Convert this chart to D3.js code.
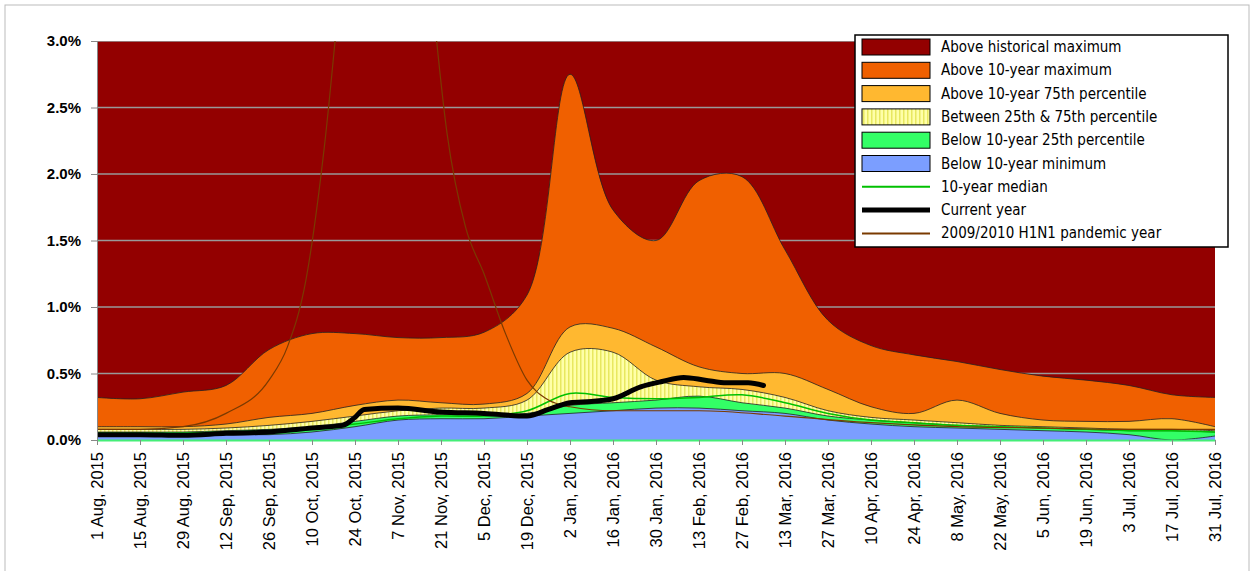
<!DOCTYPE html>
<html><head><meta charset="utf-8">
<script src="https://cdn.jsdelivr.net/npm/d3@7"></script>
<style>body{margin:0;background:#fff}text{font-family:"Liberation Sans",Arial,sans-serif}</style>
</head><body><div id="chart"></div>
<script>
var labels = ["1 Aug, 2015","15 Aug, 2015","29 Aug, 2015","12 Sep, 2015","26 Sep, 2015","10 Oct, 2015","24 Oct, 2015","7 Nov, 2015","21 Nov, 2015","5 Dec, 2015","19 Dec, 2015","2 Jan, 2016","16 Jan, 2016","30 Jan, 2016","13 Feb, 2016","27 Feb, 2016","13 Mar, 2016","27 Mar, 2016","10 Apr, 2016","24 Apr, 2016","8 May, 2016","22 May, 2016","5 Jun, 2016","19 Jun, 2016","3 Jul, 2016","17 Jul, 2016","31 Jul, 2016"];
// percentile bands, one value per label date (percent)
var histMax = [0.32,0.31,0.36,0.41,0.68,0.80,0.80,0.77,0.77,0.81,1.09,2.75,1.73,1.50,1.95,1.98,1.43,0.90,0.71,0.64,0.59,0.53,0.48,0.45,0.41,0.34,0.32];
var max10   = [0.10,0.10,0.10,0.12,0.17,0.20,0.26,0.30,0.28,0.27,0.35,0.85,0.84,0.70,0.55,0.50,0.50,0.38,0.25,0.20,0.30,0.20,0.15,0.14,0.14,0.16,0.10];
var p75     = [0.08,0.08,0.08,0.09,0.11,0.14,0.18,0.22,0.24,0.24,0.30,0.66,0.66,0.45,0.40,0.38,0.32,0.22,0.17,0.15,0.13,0.11,0.10,0.09,0.08,0.08,0.07];
var p25     = [0.06,0.06,0.06,0.07,0.08,0.10,0.14,0.18,0.19,0.19,0.20,0.26,0.28,0.30,0.33,0.28,0.24,0.18,0.15,0.13,0.11,0.10,0.09,0.08,0.07,0.07,0.06];
var min10   = [0.03,0.03,0.03,0.04,0.04,0.06,0.10,0.15,0.16,0.16,0.18,0.20,0.22,0.24,0.24,0.22,0.20,0.15,0.12,0.10,0.09,0.08,0.07,0.06,0.04,0.00,0.03];
var median  = [0.05,0.05,0.05,0.06,0.07,0.09,0.12,0.16,0.18,0.18,0.22,0.35,0.32,0.31,0.32,0.34,0.28,0.20,0.15,0.13,0.11,0.10,0.09,0.08,0.07,0.07,0.06];
// current year (day since 1 Aug, percent)
var curDays = [0,14,28,42,56,70,80,84,87,98,112,126,140,147,154,161,168,177,184,191,198,205,212,217];
var curVals = [0.04,0.04,0.035,0.05,0.06,0.09,0.11,0.17,0.23,0.24,0.21,0.20,0.18,0.23,0.28,0.29,0.31,0.40,0.44,0.47,0.45,0.43,0.43,0.41];
// 2009/2010 H1N1 pandemic year
var h1Days = [0,14,28,42,56,62,68,74,80,95,108,114,120,126,133,140,147,154,168,196,224,252,280,308,336,364];
var h1Vals = [0.08,0.08,0.10,0.20,0.45,0.70,1.20,2.20,3.60,7.0,3.6,2.3,1.6,1.25,0.80,0.45,0.30,0.25,0.22,0.22,0.18,0.13,0.10,0.09,0.08,0.08];

var W = 1250, H = 571, x0 = 97, x1 = 1215, yTop = 41, yBot = 440;
var svg = d3.select("#chart").append("svg").attr("width", W).attr("height", H);
var x = d3.scaleLinear().domain([0, 364]).range([x0, x1]);
var y = d3.scaleLinear().domain([0, 3]).range([yBot, yTop]);
var days = labels.map(function(d, i){ return i * 14; });

svg.append("rect").attr("x",5).attr("y",5).attr("width",W-6).attr("height",H).attr("fill","none").attr("stroke","#bbb");

var defs = svg.append("defs");
defs.append("clipPath").attr("id","clip").append("rect").attr("x",x0).attr("y",yTop).attr("width",x1-x0).attr("height",yBot-yTop);
var pat = defs.append("pattern").attr("id","hatch").attr("patternUnits","userSpaceOnUse").attr("width",4).attr("height",4);
pat.append("rect").attr("width",4).attr("height",4).attr("fill","#ffffa8");
pat.append("rect").attr("width",1.5).attr("height",4).attr("fill","#e8e860");

var g = svg.append("g").attr("clip-path","url(#clip)");
g.append("rect").attr("x",x0).attr("y",yTop).attr("width",x1-x0).attr("height",yBot-yTop).attr("fill","#930000");

// grid
[0.5,1,1.5,2,2.5,3].forEach(function(v){
  g.append("line").attr("x1",x0).attr("x2",x1).attr("y1",y(v)).attr("y2",y(v)).attr("stroke","#999").attr("stroke-width",1.5);
});

var curve = d3.curveCatmullRom.alpha(0.5);
var bands = [[histMax,"#f06000"],[max10,"#ffb830"],[p75,"url(#hatch)"],[p25,"#33ff66"],[min10,"#7b9eff"]];
bands.forEach(function(b){
  var area = d3.area().x(function(d,i){ return x(days[i]); }).y0(yBot).y1(function(d){ return y(d); }).curve(curve);
  g.append("path").datum(b[0]).attr("d", area).attr("fill", b[1]);
  var ln = d3.line().x(function(d,i){ return x(days[i]); }).y(function(d){ return y(d); }).curve(curve);
  g.append("path").datum(b[0]).attr("d", ln).attr("fill","none").attr("stroke","#222").attr("stroke-width",0.8);
});
g.append("path").datum(median).attr("d", d3.line().x(function(d,i){ return x(days[i]); }).y(function(d){ return y(d); }).curve(curve))
  .attr("fill","none").attr("stroke","#00c000").attr("stroke-width",1.5);
g.append("path").datum(h1Vals).attr("d", d3.line().x(function(d,i){ return x(h1Days[i]); }).y(function(d){ return y(d); }).curve(d3.curveMonotoneX))
  .attr("fill","none").attr("stroke","#7a3a00").attr("stroke-width",1.2);
g.append("path").datum(curVals).attr("d", d3.line().x(function(d,i){ return x(curDays[i]); }).y(function(d){ return y(d); }).curve(d3.curveMonotoneX))
  .attr("fill","none").attr("stroke","#000").attr("stroke-width",5).attr("stroke-linejoin","round").attr("stroke-linecap","round");

// axes
var ya = svg.append("g").attr("transform","translate("+x0+",0)")
  .call(d3.axisLeft(y).tickValues([0,0.5,1,1.5,2,2.5,3]).tickFormat(function(d){ return d.toFixed(1)+"%"; }).tickSize(6).tickPadding(10));
ya.select(".domain").attr("stroke","#888");
ya.selectAll("line").attr("stroke","#888");
ya.selectAll("text").attr("font-size",15).attr("font-weight","bold").attr("fill","#000");

var xa = svg.append("g").attr("transform","translate(0,"+yBot+")")
  .call(d3.axisBottom(x).tickValues(days).tickFormat(function(d,i){ return labels[i]; }).tickSize(5).tickSizeOuter(0));
xa.select(".domain").attr("stroke","#44ee77").attr("stroke-width",2);
xa.selectAll("line").attr("stroke","#888");
xa.selectAll("text").attr("font-size",16.5).attr("fill","#000")
  .attr("transform","rotate(-90)").attr("text-anchor","end").attr("dx","-12").attr("dy","0.35em").attr("y",0).attr("x",0);

// legend
var leg = svg.append("g").attr("transform","translate(855,35)");
leg.append("rect").attr("width",373).attr("height",212).attr("fill","#fff").attr("stroke","#000").attr("stroke-width",1.5);
var items = [["Above historical maximum","#930000","box"],["Above 10-year maximum","#f06000","box"],["Above 10-year 75th percentile","#ffb830","box"],["Between 25th & 75th percentile","url(#hatch)","box"],["Below 10-year 25th percentile","#33ff66","box"],["Below 10-year minimum","#7b9eff","box"],["10-year median","#00c000","line",2],["Current year","#000","line",5],["2009/2010 H1N1 pandemic year","#7a3a00","line",2]];
items.forEach(function(it, i){
  var cy = 12 + i * 23.3;
  if (it[2] === "box") leg.append("rect").attr("x",7).attr("y",cy-8).attr("width",68).attr("height",16).attr("fill",it[1]).attr("stroke","#000");
  else leg.append("line").attr("x1",7).attr("x2",75).attr("y1",cy).attr("y2",cy).attr("stroke",it[1]).attr("stroke-width",it[3]);
  leg.append("text").attr("x",86).attr("y",cy+5).style("font-size","15px").style("font-family","'DejaVu Sans Condensed','DejaVu Sans'").text(it[0]);
});
</script></body></html>
